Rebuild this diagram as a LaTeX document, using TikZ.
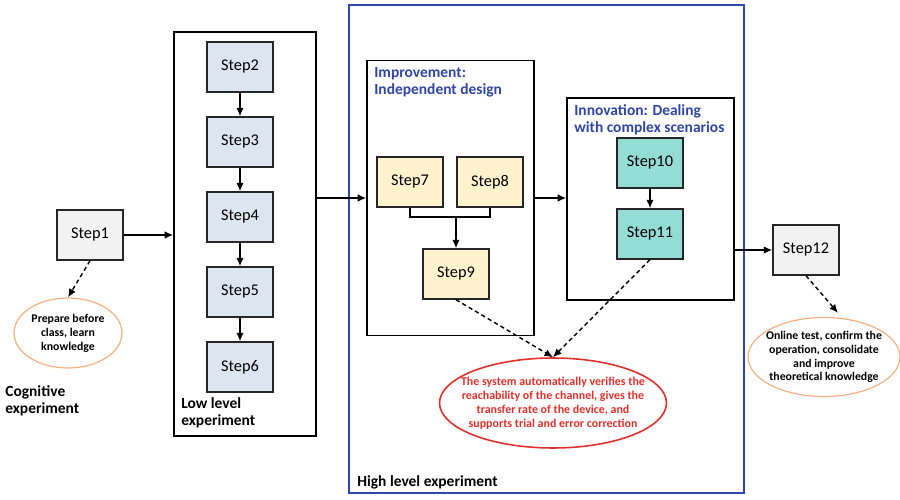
\documentclass[tikz,border=0pt]{standalone}
\usepackage{fontspec}
\setmainfont{Carlito}
\usetikzlibrary{shapes.geometric,arrows.meta}

\definecolor{cgrayfill}{HTML}{F2F2F2}
\definecolor{cbluefill}{HTML}{DCE6F1}
\definecolor{cyellowfill}{HTML}{FFF2CC}
\definecolor{ctealfill}{HTML}{93DDD5}
\definecolor{cframe}{HTML}{2F47B2}
\definecolor{ctitle}{HTML}{2F45A8}
\definecolor{cnote}{HTML}{F4B183}
\definecolor{cwarn}{HTML}{E0302B}

\tikzstyle{main}     = [draw=black!85, line width=0.8pt, inner sep=0pt, text centered, minimum width=1.32cm, minimum height=1cm, font=\fontsize{9.3}{11}\selectfont]
\tikzstyle{cgray}    = [fill=cgrayfill]
\tikzstyle{cblue}    = [fill=cbluefill]
\tikzstyle{cyellow}  = [fill=cyellowfill]
\tikzstyle{cteal}    = [fill=ctealfill]
\tikzstyle{group}    = [draw=black, line width=0.9pt, inner sep=0pt]
\tikzstyle{label}    = [anchor=north west, align=left, inner sep=0pt, font=\fontsize{8.8}{10}\selectfont\bfseries]
\tikzstyle{note}     = [ellipse, draw=cnote, line width=0.7pt, inner xsep=-0.1cm, inner ysep=-0.05cm, align=center, font=\fontsize{6.7}{7.9}\selectfont\bfseries]
\tikzstyle{flow}     = [line width=0.8pt, -{Latex[length=1.7mm, width=1.5mm]}]
\tikzstyle{hint}     = [flow, dash pattern=on 2.4pt off 1.8pt]

\begin{document}
\begin{tikzpicture}[x=0.02cm, y=-0.02cm]
  \useasboundingbox (0,0) rectangle (900,500);

  % groups
  \node[group, minimum width=2.84cm, minimum height=8.08cm] (low) at (245,234) {};
  \node[group, draw=cframe, line width=1.5pt, minimum width=7.9cm, minimum height=9.76cm] (high) at (546.5,249) {};
  \node[group, minimum width=3.34cm, minimum height=5.5cm] (imp) at (450.5,198) {};
  \node[group, minimum width=3.34cm, minimum height=4.04cm] (inn) at (650.5,199) {};

  \node[label] (lcog)  at (5,385)   {Cognitive\\experiment};
  \node[label] (llow)  at (181,397) {Low level\\experiment};
  \node[label] (lhigh) at (357,475) {High level experiment};
  \node[label, text=ctitle] (limp) at (374,67)  {Improvement:\\Independent design};
  \node[label, text=ctitle] (linn) at (574,104) {Innovation: Dealing\\with complex scenarios};

  % steps
  \node[main, cgray]   (s1)  at (90,235)  {Step1};
  \node[main, cblue]   (s2)  at (240,67)  {Step2};
  \node[main, cblue]   (s3)  at (240,142) {Step3};
  \node[main, cblue]   (s4)  at (240,217) {Step4};
  \node[main, cblue]   (s5)  at (240,292) {Step5};
  \node[main, cblue]   (s6)  at (240,367) {Step6};
  \node[main, cyellow] (s7)  at (410,182) {Step7};
  \node[main, cyellow] (s8)  at (490,182) {Step8};
  \node[main, cyellow] (s9)  at (456,274) {Step9};
  \node[main, cteal]   (s10) at (650,163) {Step10};
  \node[main, cteal]   (s11) at (650,234) {Step11};
  \node[main, cgray]   (s12) at (806,250) {Step12};

  % notes
  \node[note, minimum width=2.16cm, minimum height=1.4cm] (n1) at (68,333) {Prepare before\\class, learn\\knowledge};
  \node[note, minimum width=3.04cm, minimum height=1.58cm] (n12) at (824,357) {Online test, confirm the\\operation, consolidate\\and improve\\theoretical knowledge};
  \node[note, draw=cwarn, text=cwarn, line width=0.9pt, inner xsep=-0.32cm, minimum width=4.54cm, minimum height=1.8cm, font=\fontsize{6.8}{7.9}\selectfont\bfseries] (nsys) at (553,403) {The system automatically verifies the\\reachability of the channel, gives the\\transfer rate of the device, and\\supports trial and error correction};

  % main flow
  \draw[flow] (s1.east) -- (s1 -| low.west);
  \foreach \a/\b in {s2/s3, s3/s4, s4/s5, s5/s6, s10/s11}
    \draw[flow] (\a) -- (\b);
  \draw[flow] (low.east |- imp) -- (imp.west);
  \draw[flow] (imp.east) -- (imp.east -| inn.west);
  \draw[flow] (s12 -| inn.east) -- (s12.west);

  % step7 and step8 merge into step9
  \coordinate (join) at (456,217);
  \draw[line width=0.8pt] (s7.south) |- (join) -| (s8.south);
  \draw[flow] (join) -- (s9.north);

  % dashed hints
  \draw[hint] (s1.south) -- (n1.north);
  \draw[hint] (s12.south) -- ([xshift=0.28cm, yshift=0.08cm]n12.north);
  \draw[hint] (s9.south) -- (nsys.north);
  \draw[hint] (s11.south) -- (nsys.north);
\end{tikzpicture}
\end{document}
